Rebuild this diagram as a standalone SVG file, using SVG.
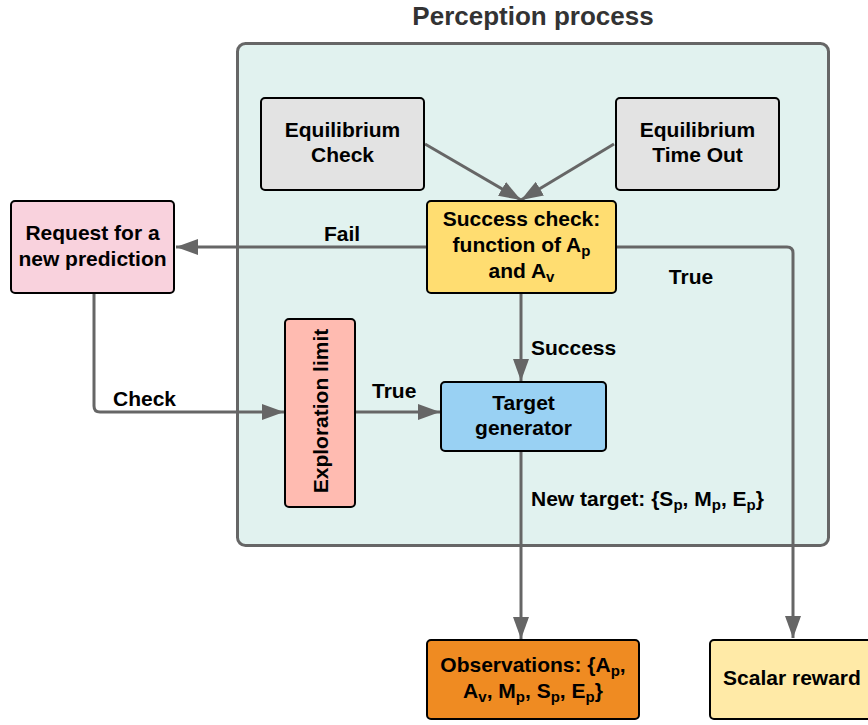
<svg xmlns="http://www.w3.org/2000/svg" width="868" height="725" viewBox="0 0 868 725">
  <style>
    .t { font-family: "Liberation Sans", Arial, sans-serif; font-weight: bold; font-size: 21px; fill: #000; text-anchor: middle; }
    .lbl { font-family: "Liberation Sans", Arial, sans-serif; font-weight: bold; font-size: 21px; fill: #000; }
    .sub { font-size: 15px; }
    .box { stroke: #000; stroke-width: 2; }
    .wire { fill: none; stroke: #666; stroke-width: 3; }
  </style>
  <defs>
    <marker id="arrow" markerUnits="userSpaceOnUse" markerWidth="23" markerHeight="16" refX="22" refY="8" orient="auto">
      <path d="M0,0 L22,8 L0,16 z" fill="#666"/>
    </marker>
  </defs>

  <rect width="868" height="725" fill="#fff"/>

  <!-- container -->
  <g id="perception-process">
    <rect x="237.5" y="43.5" width="591" height="502" rx="8" fill="#e1f2ef" stroke="#666" stroke-width="3"/>
    <text x="533" y="25" font-family="'Liberation Sans', Arial, sans-serif" font-weight="bold" font-size="26" fill="#333" text-anchor="middle">Perception process</text>
  </g>

  <!-- connectors -->
  <g id="connectors">
    <line class="wire" x1="425" y1="144" x2="521" y2="200" marker-end="url(#arrow)"/>
    <line class="wire" x1="614" y1="144" x2="521" y2="200" marker-end="url(#arrow)"/>
    <line class="wire" x1="427" y1="247" x2="176" y2="247" marker-end="url(#arrow)"/>
    <path class="wire" d="M616,247 H787 Q793,247 793,253 V638" marker-end="url(#arrow)"/>
    <line class="wire" x1="521" y1="293" x2="521" y2="381" marker-end="url(#arrow)"/>
    <path class="wire" d="M94,293 V406 Q94,412 100,412 H284" marker-end="url(#arrow)"/>
    <line class="wire" x1="355" y1="412" x2="440" y2="412" marker-end="url(#arrow)"/>
    <line class="wire" x1="521" y1="451" x2="521" y2="639" marker-end="url(#arrow)"/>

    <text class="lbl" x="342" y="241" text-anchor="middle">Fail</text>
    <text class="lbl" x="691" y="284" text-anchor="middle">True</text>
    <text class="lbl" x="531" y="355">Success</text>
    <text class="lbl" x="113" y="406">Check</text>
    <text class="lbl" x="372" y="398">True</text>
    <text class="lbl" x="531" y="506">New target: {S<tspan class="sub" dy="4">p</tspan><tspan dy="-4">, M</tspan><tspan class="sub" dy="4">p</tspan><tspan dy="-4">, E</tspan><tspan class="sub" dy="4">p</tspan><tspan dy="-4">}</tspan></text>
  </g>

  <g id="equilibrium-check">
    <rect class="box" x="261" y="98" width="163" height="92" rx="4" fill="#e3e3e3"/>
    <text class="t" x="342.5" y="137">Equilibrium</text>
    <text class="t" x="342.5" y="162">Check</text>
  </g>

  <g id="equilibrium-time-out">
    <rect class="box" x="616" y="98" width="163" height="92" rx="4" fill="#e3e3e3"/>
    <text class="t" x="697.5" y="137">Equilibrium</text>
    <text class="t" x="697.5" y="162">Time Out</text>
  </g>

  <g id="success-check">
    <rect class="box" x="427" y="201" width="189" height="92" rx="4" fill="#ffdd71"/>
    <text class="t" x="521.5" y="226">Success check:</text>
    <text class="t" x="521.5" y="252">function of A<tspan class="sub" dy="4">p</tspan></text>
    <text class="t" x="521.5" y="278">and A<tspan class="sub" dy="4">v</tspan></text>
  </g>

  <g id="request-prediction">
    <rect class="box" x="11" y="201" width="163" height="92" rx="4" fill="#f9d2dd"/>
    <text class="t" x="92.5" y="240">Request for a</text>
    <text class="t" x="92.5" y="266">new prediction</text>
  </g>

  <g id="exploration-limit">
    <rect class="box" x="285" y="319" width="70" height="188" rx="4" fill="#ffbbb1"/>
    <text class="t" transform="translate(327.5,411) rotate(-90)" x="0" y="0">Exploration limit</text>
  </g>

  <g id="target-generator">
    <rect class="box" x="441" y="382" width="165" height="69" rx="4" fill="#99d1f3"/>
    <text class="t" x="523.5" y="410">Target</text>
    <text class="t" x="523.5" y="435">generator</text>
  </g>

  <g id="observations">
    <rect class="box" x="427" y="640" width="212" height="79" rx="4" fill="#ef8b22"/>
    <text class="t" x="533" y="672">Observations: {A<tspan class="sub" dy="4">p</tspan><tspan dy="-4">,</tspan></text>
    <text class="t" x="533" y="698">A<tspan class="sub" dy="4">v</tspan><tspan dy="-4">, M</tspan><tspan class="sub" dy="4">p</tspan><tspan dy="-4">, S</tspan><tspan class="sub" dy="4">p</tspan><tspan dy="-4">, E</tspan><tspan class="sub" dy="4">p</tspan><tspan dy="-4">}</tspan></text>
  </g>

  <g id="scalar-reward">
    <rect class="box" x="710" y="640" width="170" height="79" rx="4" fill="#ffeaa7"/>
    <text class="t" x="792" y="685">Scalar reward</text>
  </g>
</svg>
